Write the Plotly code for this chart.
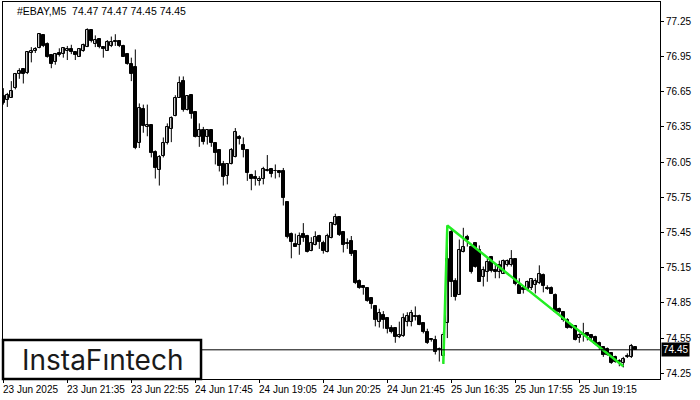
import plotly.graph_objects as go

title_text = "#EBAY,M5  74.47 74.47 74.45 74.45"

open_ = [76.61,76.58,76.60,76.68,76.80,76.84,76.81,76.98,77.00,77.02,
77.13,77.06,76.96,76.90,76.98,76.97,77.00,77.01,76.99,76.95,
77.00,77.03,77.18,77.06,77.10,77.03,77.00,77.04,77.08,77.08,
77.04,76.97,76.89,76.86,76.21,76.50,76.35,76.37,76.14,75.98,
76.10,76.21,76.33,76.44,76.60,76.74,76.49,76.62,76.48,76.26,
76.32,76.26,76.32,76.21,76.15,76.03,75.93,76.03,76.09,76.26,
76.20,76.15,75.94,75.92,75.89,75.91,75.98,75.99,75.97,75.97,
75.97,75.71,75.44,75.35,75.34,75.44,75.42,75.29,75.34,75.42,
75.36,75.28,75.40,75.51,75.58,75.45,75.36,75.38,75.29,75.04,
74.99,74.98,74.89,74.82,74.69,74.75,74.72,74.64,74.64,74.56,
74.57,74.69,74.69,74.74,74.74,74.68,74.60,74.54,74.53,74.46,
74.40,74.68,75.45,75.04,74.92,75.28,75.41,75.33,75.36,75.30,
75.07,75.11,75.24,75.13,75.11,75.10,75.17,75.17,75.22,75.00,
74.98,74.96,74.98,75.00,75.02,75.09,74.98,74.98,74.92,74.80,
74.77,74.70,74.66,74.65,74.55,74.58,74.59,74.58,74.56,74.51,
74.47,74.46,74.42,74.39,74.35,74.34,74.39,74.39,74.47]

high = [76.68,76.64,76.74,76.81,76.85,76.85,76.99,77.03,77.03,77.15,
77.14,77.07,76.97,76.98,77.02,77.03,77.04,77.05,76.99,77.02,
77.06,77.19,77.18,77.13,77.10,77.03,77.09,77.12,77.14,77.09,
77.05,76.98,76.94,77.01,76.55,76.54,76.54,76.37,76.15,76.11,
76.26,76.38,76.44,76.62,76.78,76.78,76.62,76.63,76.48,76.38,
76.35,76.33,76.33,76.22,76.16,76.06,76.04,76.17,76.34,76.28,
76.26,76.16,75.95,75.98,75.93,76.01,76.11,76.00,76.03,75.97,
76.00,75.71,75.45,75.44,75.45,75.53,75.43,75.41,75.46,75.43,
75.38,75.44,75.54,75.61,75.59,75.46,75.40,75.42,75.30,75.05,
74.99,74.98,74.90,74.82,74.80,74.78,74.72,74.66,74.64,74.69,
74.76,74.77,74.79,74.82,74.75,74.68,74.63,74.55,74.57,74.47,
74.60,75.51,75.48,75.06,75.39,75.49,75.43,75.35,75.36,75.34,
75.16,75.23,75.25,75.19,75.21,75.22,75.22,75.30,75.22,75.06,
74.99,75.04,75.05,75.06,75.17,75.10,75.00,74.99,74.93,74.81,
74.78,74.72,74.67,74.65,74.59,74.68,74.60,74.58,74.57,74.52,
74.47,74.47,74.43,74.40,74.37,74.39,74.42,74.50,74.47]

low = [76.54,76.52,76.60,76.67,76.76,76.72,76.80,76.90,76.98,77.02,
77.03,76.94,76.85,76.88,76.95,76.94,76.92,76.97,76.92,76.95,
76.99,77.03,77.07,77.03,77.02,76.94,77.00,77.03,77.04,77.03,
76.95,76.88,76.74,76.16,76.17,76.30,76.27,76.09,75.91,75.85,
76.09,76.20,76.22,76.44,76.60,76.48,76.49,76.42,76.26,76.18,
76.20,76.20,76.18,76.03,75.97,75.85,75.86,76.03,76.09,76.20,
76.09,75.89,75.81,75.85,75.85,75.86,75.97,75.92,75.91,75.92,
75.68,75.40,75.23,75.33,75.26,75.37,75.28,75.29,75.34,75.31,
75.27,75.28,75.40,75.51,75.42,75.28,75.31,75.25,75.01,74.97,
74.92,74.86,74.80,74.65,74.64,74.63,74.59,74.59,74.51,74.55,
74.56,74.65,74.65,74.70,74.66,74.59,74.50,74.52,74.41,74.35,
74.33,74.55,74.90,74.87,74.92,75.28,75.33,75.10,75.15,75.03,
74.99,75.03,75.11,75.06,75.06,75.10,75.16,75.16,75.00,74.93,
74.93,74.95,74.96,74.93,75.01,74.94,74.96,74.93,74.77,74.76,
74.69,74.63,74.63,74.53,74.51,74.52,74.53,74.52,74.49,74.45,
74.39,74.40,74.33,74.34,74.31,74.30,74.38,74.38,74.45]

close = [76.55,76.62,76.66,76.80,76.83,76.80,76.99,77.00,77.01,77.14,
77.04,76.95,76.89,76.97,76.96,77.02,77.01,76.99,76.96,77.01,
77.05,77.18,77.08,77.09,77.03,77.01,77.07,77.07,77.07,77.04,
76.95,76.89,76.80,76.17,76.51,76.36,76.37,76.13,76.00,76.09,
76.21,76.35,76.43,76.60,76.72,76.49,76.61,76.46,76.26,76.32,
76.22,76.32,76.21,76.13,76.02,75.92,76.03,76.15,76.31,76.25,
76.15,75.96,75.91,75.91,75.91,75.99,75.97,75.95,75.97,75.96,
75.74,75.41,75.37,75.33,75.42,75.40,75.28,75.36,75.41,75.37,
75.29,75.42,75.53,75.58,75.43,75.34,75.35,75.27,75.02,74.98,
74.98,74.87,74.84,74.70,74.76,74.70,74.63,74.60,74.56,74.58,
74.72,74.74,74.76,74.73,74.66,74.60,74.51,74.53,74.43,74.45,
74.58,75.22,75.03,74.90,75.30,75.33,75.39,75.11,75.16,75.03,
75.13,75.20,75.12,75.11,75.17,75.21,75.21,75.22,75.01,74.93,
74.96,75.03,75.05,75.04,75.10,74.99,74.97,74.93,74.77,74.77,
74.70,74.64,74.64,74.53,74.58,74.58,74.57,74.55,74.50,74.47,
74.41,74.41,74.34,74.35,74.35,74.37,74.40,74.48,74.45]

x_tick_index = [0, 16, 32, 48, 64, 80, 96, 112, 128, 144]
x_tick_labels = ["23 Jun 2025", "23 Jun 21:35", "23 Jun 22:55", "24 Jun 17:45",
                 "24 Jun 19:05", "24 Jun 20:25", "24 Jun 21:45", "25 Jun 16:35",
                 "25 Jun 17:55", "25 Jun 19:15"]
y_tick_values = [74.25, 74.55, 74.85, 75.15, 75.45, 75.75, 76.05, 76.35, 76.65, 76.95, 77.25]

pattern_index = [110, 111, 155]
pattern_price = [74.33, 75.51, 74.31]

last_price = 74.45
logo_text = "InstaFıntech"

FONT = "Liberation Sans, Arial, sans-serif"

n = len(close)

# wicks
wx, wy = [], []
for i in range(n):
    wx += [i, i, None]
    wy += [low[i], high[i], None]

MIN_H = 0.003
up_x, up_base, up_h = [], [], []
dn_x, dn_base, dn_h = [], [], []
for i in range(n):
    lo_b = min(open_[i], close[i])
    h = max(abs(close[i] - open_[i]), MIN_H)
    if close[i] > open_[i]:
        up_x.append(i); up_base.append(lo_b); up_h.append(h)
    else:
        dn_x.append(i); dn_base.append(lo_b); dn_h.append(h)

fig = go.Figure()
fig.add_trace(go.Scatter(x=wx, y=wy, mode="lines", line=dict(color="black", width=1),
                         hoverinfo="skip", showlegend=False))
fig.add_trace(go.Bar(x=up_x, y=up_h, base=up_base, width=0.6,
                     marker=dict(color="white", line=dict(color="black", width=1)),
                     showlegend=False))
fig.add_trace(go.Bar(x=dn_x, y=dn_h, base=dn_base, width=0.6,
                     marker=dict(color="black", line=dict(color="black", width=1)),
                     showlegend=False))
fig.add_trace(go.Scatter(x=pattern_index, y=pattern_price, mode="lines",
                         line=dict(color="#22ee22", width=2.5), showlegend=False))

fig.update_layout(
    width=700, height=400,
    margin=dict(l=3, r=40, t=2, b=21),
    paper_bgcolor="white", plot_bgcolor="white",
    barmode="overlay", bargap=0,
    showlegend=False,
    font=dict(family=FONT, color="black"),
)
fig.update_xaxes(
    range=[-0.08, 164.17], showgrid=False, zeroline=False,
    showline=True, linecolor="black", linewidth=1, mirror=True,
    tickvals=x_tick_index, ticks="outside", ticklen=3, tickcolor="black",
    showticklabels=False,
)
fig.update_yaxes(
    range=[74.2013, 77.4145], side="right", showgrid=False, zeroline=False,
    showline=True, linecolor="black", linewidth=1, mirror=True,
    tickvals=y_tick_values, ticktext=[f"{v:.2f}" for v in y_tick_values],
    ticks="outside", ticklen=3, tickcolor="black",
    tickfont=dict(size=10, color="black", family=FONT),
)

shapes = [
    dict(type="line", xref="paper", x0=0, x1=1, yref="y", y0=last_price, y1=last_price,
         line=dict(color="black", width=1), layer="above"),
    dict(type="rect", xref="paper", x0=0, x1=0.3014, yref="paper", y0=0, y1=0.1034,
         line=dict(color="black", width=2.5), fillcolor="white", layer="above"),
]
fig.update_layout(shapes=shapes)

annotations = []
for ti, tl in zip(x_tick_index, x_tick_labels):
    annotations.append(dict(x=ti, xref="x", y=0, yref="paper", yshift=-10,
                            text=tl, showarrow=False, xanchor="left", yanchor="middle",
                            xshift=-2, font=dict(size=10, color="black", family=FONT)))
annotations.append(dict(x=0, xref="paper", y=1, yref="paper", xshift=12, yshift=-9,
                        text=title_text, showarrow=False, xanchor="left", yanchor="middle",
                        font=dict(size=10.5, color="black", family=FONT)))
annotations.append(dict(x=1, xref="paper", y=last_price, yref="y", xshift=1,
                        text=f"{last_price:.2f}", showarrow=False, xanchor="left", yanchor="middle",
                        bgcolor="black", borderpad=1,
                        font=dict(size=10, color="white", family=FONT)))
annotations.append(dict(x=0.1507, xref="paper", y=0.0517, yref="paper",
                        text=logo_text, showarrow=False, xanchor="center", yanchor="middle",
                        font=dict(size=28, color="#1a1a1a", family="Inter, sans-serif")))
fig.update_layout(annotations=annotations)

fig.write_html("out.html",
               config={"displayModeBar": False},
               post_script="document.body.style.margin='0';document.body.style.padding='0';")
